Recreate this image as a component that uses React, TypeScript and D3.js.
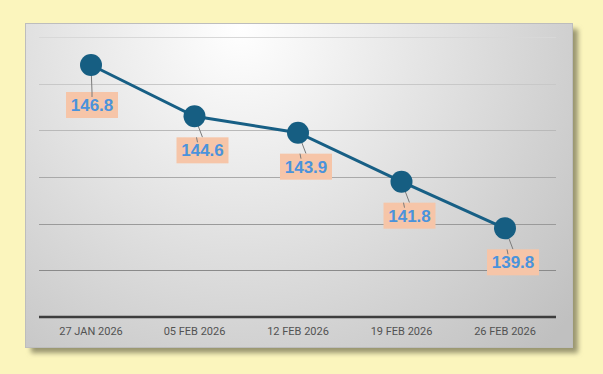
import React, {Component} from 'react';
import * as d3 from "d3";

const dates = ["27 JAN 2026", "05 FEB 2026", "12 FEB 2026", "19 FEB 2026", "26 FEB 2026"]
const values = [146.8, 144.6, 143.9, 141.8, 139.8]
const yTicks = [136, 138, 140, 142, 144, 146, 148]

class App extends Component {

    componentDidMount() {
        this.drawChart();
    }

    drawChart() {
        const w = 603
        const h = 374
        const panel = {x: 25, y: 23, w: 547, h: 324}
        const margin = ({top: 37, right: 47, bottom: 57, left: 39})

        const svg = d3.select("#chart")
            .append("svg")
            .attr("width", w)
            .attr("height", h)
            .style("position", "absolute")
            .style("left", 0)
            .style("top", 0)

        const defs = svg.append("defs")
        const grad = defs.append("radialGradient")
            .attr("id", "bg")
            .attr("gradientUnits", "userSpaceOnUse")
            .attr("cx", 240).attr("cy", 28).attr("r", 440)
        grad.append("stop").attr("offset", "0%").attr("stop-color", "#ffffff")
        grad.append("stop").attr("offset", "100%").attr("stop-color", "#c0c0c0")

        const shadow = defs.append("filter").attr("id", "blur")
            .attr("x", "-10%").attr("y", "-10%").attr("width", "120%").attr("height", "120%")
        shadow.append("feGaussianBlur").attr("stdDeviation", 2.5)

        svg.append("rect").attr("width", w).attr("height", h).attr("fill", "#fbf5bd")

        svg.append("rect")
            .attr("x", panel.x + 6).attr("y", panel.y + 6)
            .attr("width", panel.w).attr("height", panel.h)
            .attr("fill", "#99956f")
            .attr("filter", "url(#blur)")

        svg.append("rect")
            .attr("x", panel.x + 0.5).attr("y", panel.y + 0.5)
            .attr("width", panel.w).attr("height", panel.h)
            .attr("fill", "url(#bg)")
            .attr("stroke", "#bdbdbd")

        const x = d3.scalePoint()
            .domain(dates)
            .range([91, 505])

        const y = d3.scaleLinear()
            .domain([136, 148])
            .range([h - margin.bottom, margin.top])

        const gridColor = d3.scaleLinear<string>()
            .domain([148, 138])
            .range(["#d8d8d8", "#8a8a8a"])

        // grid
        svg.append("g")
            .selectAll("line")
            .data(yTicks.filter(d => d !== 136))
            .join("line")
                .attr("x1", margin.left)
                .attr("x2", w - margin.right)
                .attr("y1", d => Math.round(y(d)) + 0.5)
                .attr("y2", d => Math.round(y(d)) + 0.5)
                .attr("stroke", d => gridColor(d))

        // baseline
        svg.append("line")
            .attr("x1", margin.left)
            .attr("x2", w - margin.right)
            .attr("y1", y(136))
            .attr("y2", y(136))
            .attr("stroke", "#3d3d3d")
            .attr("stroke-width", 2.5)

        svg.append("g")
            .attr("font-family", "Roboto, sans-serif")
            .attr("font-size", 11)
            .attr("fill", "#525252")
            .attr("text-anchor", "middle")
            .selectAll("text")
            .data(dates)
            .join("text")
                .attr("x", d => x(d))
                .attr("y", y(136) + 18)
                .text(d => d)

        const line = d3.line<number>()
            .x((d, i) => x(dates[i]))
            .y(d => y(d))

        svg.append("path")
            .datum(values)
            .attr("d", line)
            .attr("fill", "none")
            .attr("stroke", "#175f85")
            .attr("stroke-width", 3)

        const pts = values.map((v, i) => ({
            v: v,
            cx: x(dates[i]),
            cy: y(v),
            lx: x(dates[i]) + (i === 0 ? 1 : 8),
            ly: y(v) + (i === 0 ? 40 : 34)
        }))

        // leader lines
        svg.append("g")
            .selectAll("line")
            .data(pts)
            .join("line")
                .attr("x1", d => d.cx)
                .attr("y1", d => d.cy)
                .attr("x2", d => d.lx)
                .attr("y2", d => d.ly - 13)
                .attr("stroke", "#7a7a7a")
                .attr("stroke-width", 1)

        svg.append("g")
            .selectAll("circle")
            .data(pts)
            .join("circle")
                .attr("cx", d => d.cx)
                .attr("cy", d => d.cy)
                .attr("r", 11)
                .attr("fill", "#165e82")

        const labels = svg.append("g")
            .selectAll("g")
            .data(pts)
            .join("g")
                .attr("transform", d => `translate(${d.lx},${d.ly})`)

        labels.append("rect")
            .attr("x", -26)
            .attr("y", -13)
            .attr("width", 52)
            .attr("height", 26)
            .attr("fill", "#f6c5a8")

        labels.append("line")
            .attr("x1", (d, i) => i === 0 ? 0 : -6)
            .attr("y1", -13)
            .attr("x2", (d, i) => i === 0 ? 0 : -5)
            .attr("y2", -8)
            .attr("stroke", "#7a7a7a")

        labels.append("text")
            .attr("text-anchor", "middle")
            .attr("dy", "0.36em")
            .attr("font-family", "'Liberation Sans', Arial, sans-serif")
            .attr("font-weight", "bold")
            .attr("font-size", 17)
            .attr("fill", "#4a93dc")
            .text(d => d.v.toFixed(1))
    }

    render() {
        return <div id="chart"></div>
    }
}

export default App;
